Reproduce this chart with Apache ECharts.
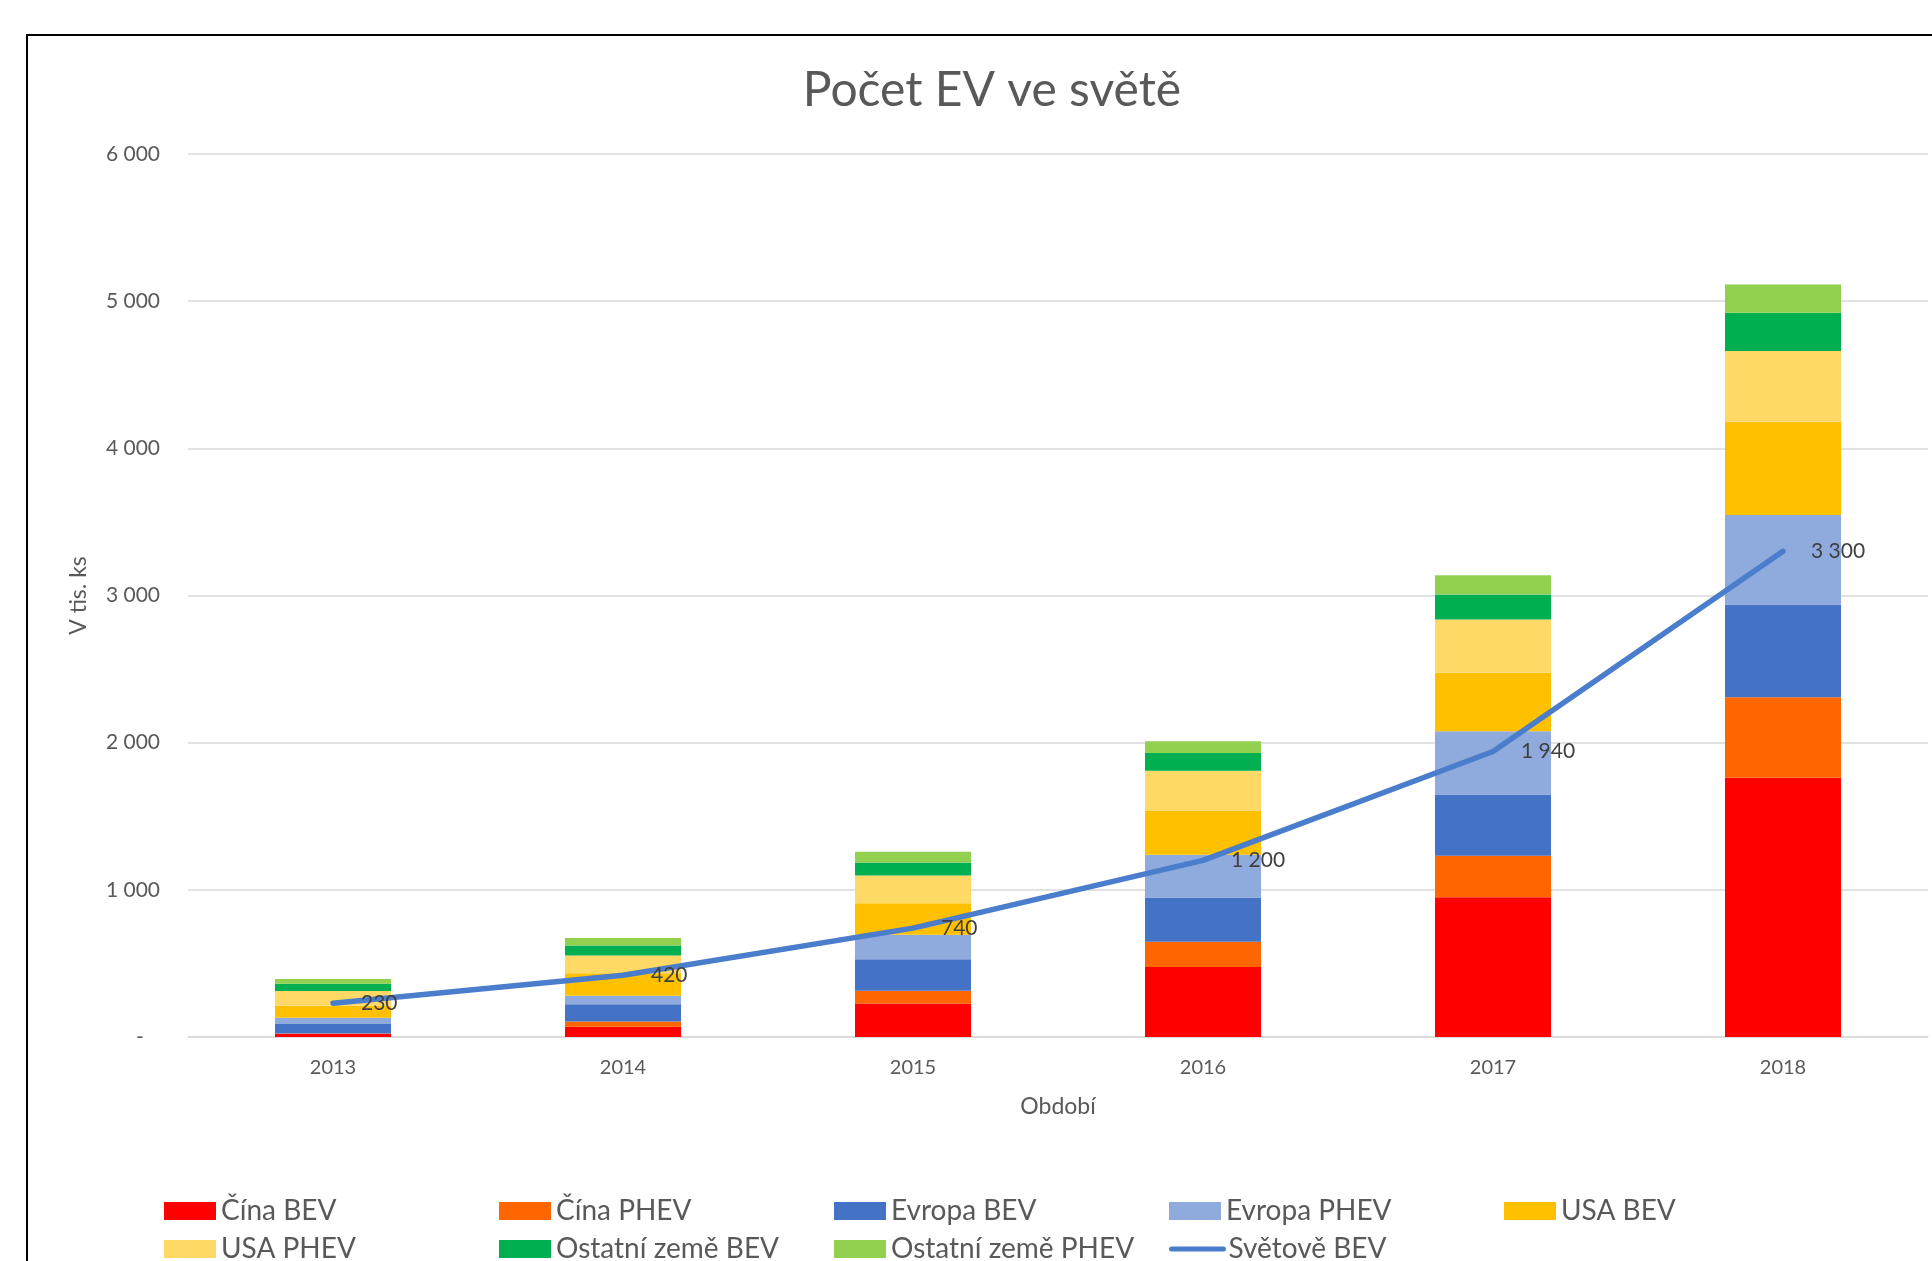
<!DOCTYPE html>
<html>
<head>
<meta charset="utf-8">
<script src="https://cdn.jsdelivr.net/npm/echarts@6/dist/echarts.min.js"></script>
<style>
html,body{margin:0;padding:0;background:#fff;}
#chart{width:1932px;height:1261px;}
</style>
</head>
<body>
<div id="chart"></div>
<script>
const years = ['2013', '2014', '2015', '2016', '2017', '2018'];
const cinaBEV = [20, 70, 227, 476, 950, 1762];
const cinaPHEV = [4, 36, 88, 172, 281, 546];
const evropaBEV = [65, 116, 213, 300, 416, 630];
const evropaPHEV = [41, 59, 166, 290, 430, 609];
const usaBEV = [82, 152, 215, 301, 398, 634];
const usaPHEV = [100, 120, 188, 271, 362, 481];
const ostatniBEV = [50, 68, 89, 119, 170, 259];
const ostatniPHEV = [32, 52, 73, 80, 131, 193];
const svetoveBEV = [230, 420, 740, 1200, 1940, 3300];

const barNames = ['Čína BEV', 'Čína PHEV', 'Evropa BEV', 'Evropa PHEV', 'USA BEV', 'USA PHEV', 'Ostatní země BEV', 'Ostatní země PHEV'];
const barData = [cinaBEV, cinaPHEV, evropaBEV, evropaPHEV, usaBEV, usaPHEV, ostatniBEV, ostatniPHEV];
const barColors = ['#FF0000', '#FF6600', '#4472C4', '#8FAADC', '#FFC000', '#FFD966', '#00B050', '#92D050'];
const lineName = 'Světově BEV';
const lineColor = '#4A7DCB';

function fmt(v) {
  return String(v).replace(/\B(?=(\d{3})+(?!\d))/g, ' ');
}

const chart = echarts.init(document.getElementById('chart'), null, {renderer: 'canvas'});

const series = barNames.map((n, i) => ({
  name: n,
  type: 'bar',
  stack: 'ev',
  data: barData[i],
  barCategoryGap: '60%',
  itemStyle: {color: barColors[i]},
  emphasis: {disabled: true}
}));
series.push({
  name: lineName,
  type: 'line',
  data: svetoveBEV,
  symbol: 'circle',
  symbolSize: 2,
  showSymbol: true,
  z: 5,
  lineStyle: {color: lineColor, width: 5.5, cap: 'round', join: 'round'},
  itemStyle: {color: lineColor},
  label: {
    show: true,
    position: 'right',
    distance: 27,
    color: '#404040',
    fontSize: 21,
    fontFamily: 'Lato',
    formatter: p => fmt(p.value)
  },
  emphasis: {disabled: true}
});

const legendData = barNames.map(n => ({name: n, icon: 'rect'}));
legendData.push({name: lineName, itemStyle: {opacity: 0}, lineStyle: {width: 5, color: lineColor, cap: 'round'}});

chart.setOption({
  animation: false,
  textStyle: {fontFamily: 'Lato'},
  graphic: [{
    type: 'rect',
    shape: {x: 27, y: 35, width: 2200, height: 2200},
    style: {fill: 'none', stroke: '#000', lineWidth: 2},
    z: -10
  }],
  title: {
    text: 'Počet EV ve světě',
    left: 987,
    textAlign: 'center',
    top: 62,
    textStyle: {fontSize: 48, fontWeight: 'normal', color: '#595959', fontFamily: 'Lato'}
  },
  grid: {left: 188, right: 4, top: 154, bottom: 224, containLabel: false},
  legend: {
    data: legendData,
    left: 159,
    top: 1187,
    width: 1680,
    itemWidth: 52,
    itemHeight: 18,
    itemGap: 0,
    textStyle: {fontSize: 28, color: '#595959', width: 278, lineHeight: 38, fontFamily: 'Lato'}
  },
  xAxis: {
    type: 'category',
    data: years,
    name: 'Období',
    nameLocation: 'middle',
    nameGap: 58,
    nameTextStyle: {fontSize: 23, color: '#595959'},
    axisTick: {show: false},
    axisLine: {lineStyle: {color: '#D9D9D9', width: 1.5}},
    axisLabel: {fontSize: 20, color: '#595959', margin: 21}
  },
  yAxis: {
    type: 'value',
    min: 0,
    max: 6000,
    interval: 1000,
    name: 'V tis. ks',
    nameLocation: 'middle',
    nameGap: 98,
    nameTextStyle: {fontSize: 23, color: '#595959'},
    axisLine: {show: false},
    axisTick: {show: false},
    splitLine: {lineStyle: {color: '#D9D9D9', width: 1.5}},
    axisLabel: {
      fontSize: 21,
      color: '#595959',
      margin: 28,
      formatter: v => v === 0 ? '-   ' : fmt(v)
    }
  },
  series: series
});
</script>
</body>
</html>
